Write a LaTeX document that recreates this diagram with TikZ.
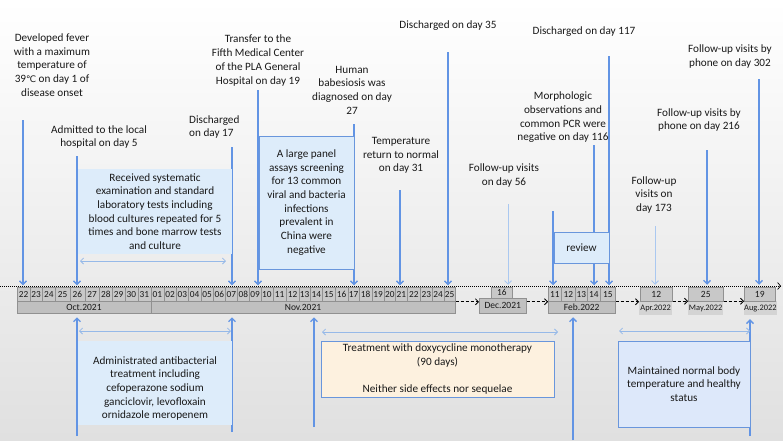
\documentclass[tikz,border=0pt]{standalone}
\usepackage{fontspec}
\setmainfont{Carlito}
\newfontfamily\djv{DejaVu Sans}
\usetikzlibrary{arrows.meta}
\pgfdeclarelayer{bg}
\pgfdeclarelayer{under}
\pgfsetlayers{bg,under,main}
\definecolor{arrblue}{RGB}{98,148,228}
\definecolor{lightarr}{RGB}{170,200,240}
\definecolor{dblarr}{RGB}{150,185,232}
\definecolor{boxblue}{RGB}{221,236,250}
\definecolor{boxblue2}{RGB}{221,232,250}
\definecolor{boxorange}{RGB}{253,241,223}
\definecolor{boxedge}{RGB}{105,150,220}
\definecolor{txt}{RGB}{25,25,25}
\definecolor{cellfill}{RGB}{200,200,200}
\definecolor{cellline}{RGB}{145,145,145}
\definecolor{monthfill}{RGB}{192,192,192}
\definecolor{monthlight}{RGB}{212,212,212}
\definecolor{bggrey}{RGB}{224,224,224}
\begin{document}
\begin{tikzpicture}[x=1pt,y=-1pt,
  lbl/.style={text=txt, align=center, inner sep=0pt, font=\fontsize{11.2}{13.7}\selectfont},
  vline/.style={draw=arrblue, line width=1.3pt, shorten >=2pt, -{Straight Barb[length=3.5pt,width=7pt]}},
  vlight/.style={draw=lightarr, line width=0.9pt, shorten >=2pt, -{Straight Barb[length=3.5pt,width=7pt]}},
  upline/.style={draw=arrblue, line width=1.3pt, shorten >=4pt, -{Straight Barb[length=3.5pt,width=7pt]}},
  dblline/.style={draw=dblarr, line width=0.8pt, {Straight Barb[length=3pt,width=6pt]}-{Straight Barb[length=3pt,width=6pt]}},
  cell/.style={draw=cellline, fill=cellfill, line width=0.5pt, minimum height=14pt, inner sep=0pt, text=txt, font=\fontsize{9.3}{10}\selectfont},
  month/.style={draw=cellline, fill=monthfill, line width=0.5pt, inner sep=0pt, text=txt, font=\fontsize{9.5}{10}\selectfont},
  monthlt/.style={draw=none, fill=monthlight, inner sep=0pt, text=txt, font=\fontsize{8.4}{9}\selectfont},
  panel/.style={fill=boxblue, draw=boxedge, line width=0.8pt, inner sep=0pt},
  plain/.style={fill=boxblue, draw=none, inner sep=0pt},
  tline/.style={draw=black, line width=0.7pt, dash pattern=on 1pt off 1pt, -{Straight Barb[length=3pt,width=7pt]}},
  dasharr/.style={draw=black, line width=0.8pt, dash pattern=on 3pt off 2pt, -{Straight Barb[length=3pt,width=6pt]}}
]
\useasboundingbox (0,0) rectangle (783,440);
\begin{pgfonlayer}{bg}
\shade[top color=white, bottom color=bggrey] (0,0) rectangle (783,440);
\end{pgfonlayer}

% ---- timeline ----
\coordinate (tl0) at (0,286);
\coordinate (tl1) at (781,286);
\draw[tline] (tl0) -- (tl1);

% Oct/Nov and Feb day cells
\foreach \n/\t/\l/\r in {o22/22/17/29.5, o23/23/29.5/42, o24/24/42/55, o25/25/55/69.5, o26/26/69.5/84.5,
  o27/27/84.5/99, o28/28/99/112, o29/29/112/124.5, o30/30/124.5/137.5, o31/31/137.5/150.5,
  n01/01/150.5/163.5, n02/02/163.5/176, n03/03/176/188, n04/04/188/200.5, n05/05/200.5/213,
  n06/06/213/225, n07/07/225/237, n08/08/237/249, n09/09/249/260.5, n10/10/260.5/272.5,
  n11/11/272.5/286, n12/12/286/298.5, n13/13/298.5/310, n14/14/310/322, n15/15/322/335,
  n16/16/335/347.5, n17/17/347.5/359, n18/18/359/371.5, n19/19/371.5/384, n20/20/384/395,
  n21/21/395/407, n22/22/407/420, n23/23/420/432, n24/24/432/443.5, n25/25/443.5/455,
  f11/11/548/561, f12/12/561/575, f13/13/575/587, f14/14/587/600, f15/15/600/615}
  \node[cell, minimum width={\r-\l}, anchor=west] (\n) at (\l,294.5) {\t};

\node[month, minimum width=133.5, minimum height=11.5, anchor=west] (octm) at (17,307.25) {Oct.2021};
\node[month, minimum width=304.5, minimum height=11.5, anchor=west] (novm) at (150.5,307.25) {Nov.2021};
\node[month, minimum width=67, minimum height=11.5, anchor=west] (febm) at (548,307.25) {Feb.2022};

% Dec block
\node[month, minimum width=47, minimum height=15, anchor=west] (decm) at (479,305.5) {Dec.2021};
\node[cell, minimum width=21, minimum height=11, anchor=west] (d16) at (491,292.5) {16};
% Apr, May, Aug blocks
\node[monthlt, minimum width=33, minimum height=14, anchor=west] (aprm) at (639,308) {Apr.2022};
\node[cell, minimum width=32, anchor=west, font=\fontsize{9.5}{10}\selectfont] (a12) at (640,294) {12};
\node[monthlt, minimum width=35, minimum height=14, anchor=west] (maym) at (688,308) {May.2022};
\node[cell, minimum width=35, anchor=west, font=\fontsize{9.5}{10}\selectfont] (m25) at (688,294) {25};
\node[monthlt, minimum width=31, minimum height=14, anchor=west] (augm) at (744,308) {Aug.2022};
\node[cell, minimum width=31, anchor=west, font=\fontsize{9.5}{10}\selectfont] (g19) at (744,294) {19};

% dashed links between blocks
\draw[dasharr] (n25.south east) -- (n25.south east -| decm.west);
\draw[dasharr] (decm.east |- f11.south west) -- (f11.south west);
\draw[dasharr] (f15.south east) -- (f15.south east -| aprm.west);
\draw[dasharr] (a12.south east) -- (m25.south west);
\draw[dasharr] (m25.south east) -- (g19.south west);

% ---- vertical arrows (under boxes) ----
\coordinate (u1) at (23,120);
\coordinate (u2) at (77,156);
\coordinate (u3) at (232,147);
\coordinate (u4) at (258,90);
\coordinate (u5) at (354,124);
\coordinate (u6) at (400,190);
\coordinate (u7) at (448,52);
\coordinate (u8) at (508,204);
\coordinate (u9) at (553,211);
\coordinate (u10) at (594,145);
\coordinate (u11) at (609,56);
\coordinate (u12) at (655,226);
\coordinate (u13) at (707,150);
\coordinate (u14) at (759,79);
\coordinate (b1) at (77,436);
\coordinate (b2) at (232,432);
\coordinate (b3) at (314,427);
\coordinate (b4) at (573,440);
\coordinate (b5) at (750,436);
\begin{pgfonlayer}{under}
\draw[vline] (u1) -- (u1 |- o22.north);
\draw[vline] (u2) -- (u2 |- o26.north);
\draw[vline] (u3) -- (u3 |- n07.north);
\draw[vline] (u4) -- (u4 |- n09.north);
\draw[vline] (u5) -- (u5 |- n17.north);
\draw[vline] (u6) -- (u6 |- n21.north);
\draw[vline] (u7) -- (u7 |- n25.north);
\draw[vlight] (u8) -- (u8 |- d16.north);
\draw[vline] (u9) -- (u9 |- f11.north);
\draw[vline] (u10) -- (u10 |- f14.north);
\draw[vline] (u11) -- (u11 |- f15.north);
\draw[vlight] (u12) -- (u12 |- a12.north);
\draw[vline] (u13) -- (u13 |- m25.north);
\draw[vline] (u14) -- (u14 |- g19.north);
\draw[upline] (b1) -- (b1 |- octm.south);
\draw[upline] (b2) -- (b2 |- novm.south);
\draw[upline] (b3) -- (b3 |- novm.south);
\draw[upline] (b4) -- (b4 |- febm.south);
\draw[upline] (b5) -- (b5 |- augm.south);
\end{pgfonlayer}

% ---- boxes ----
\node[plain, minimum width=153.5, minimum height=85, lbl] (sysbox) at (155,211.5)
  {Received systematic\\examination and standard\\laboratory tests including\\blood cultures repeated for 5\\times and bone marrow tests\\and culture};
\node[panel, minimum width=95, minimum height=133, lbl] (panelbox) at (306.5,202.5)
  {A large panel\\assays screening\\for 13 common\\viral and bacteria\\infections\\prevalent in\\China were\\negative};
\node[panel, minimum width=55, minimum height=31, lbl] (review) at (581.5,247.5) {review};
\node[plain, minimum width=154, minimum height=84] (abbox) at (154.5,383) {};
\node[lbl] (ablbl) at (155,388.5)
  {Administrated antibacterial\\treatment including\\cefoperazone sodium\\ganciclovir, levofloxain\\ornidazole meropenem};
\node[panel, fill=boxorange, minimum width=233, minimum height=56, lbl] (doxbox) at (437.5,369)
  {Treatment with doxycycline monotherapy\\(90 days)\\[13.7pt]Neither side effects nor sequelae};
\node[panel, fill=boxblue2, minimum width=132, minimum height=86, lbl] (normbox) at (684,384)
  {Maintained normal body\\temperature and healthy\\status};

% ---- double arrows ----
\coordinate (da1) at (80,261); \coordinate (da2) at (226,261);
\coordinate (db1) at (79,331); \coordinate (db2) at (231,331);
\coordinate (dc1) at (322,332); \coordinate (dc2) at (558,332);
\coordinate (dd1) at (619,331); \coordinate (dd2) at (750,331);
\draw[dblline] (da1) -- (da2);
\draw[dblline] (db1) -- (db2);
\draw[dblline] (dc1) -- (dc2);
\draw[dblline] (dd1) -- (dd2);

% ---- labels above ----
\node[lbl] (t1) at (52,65) {Developed fever\\with a maximum\\temperature of\\39{\djv\fontsize{9}{10}\selectfont ℃} on day 1 of\\disease onset};
\node[lbl] (t2) at (99,137) {Admitted to the local\\hospital on day 5};
\node[lbl, align=left, anchor=west] (t4) at (189,127) {Discharged\\on day 17};
\node[lbl] (t5) at (258,60.5) {Transfer to the\\Fifth Medical Center\\of the PLA General\\Hospital on day 19};
\node[lbl] (t7) at (352,90) {Human\\babesiosis was\\diagnosed on day\\27};
\node[lbl] (t8) at (401,155.5) {Temperature\\return to normal\\on day 31};
\node[lbl] (t9) at (448,26) {Discharged on day 35};
\node[lbl] (t10) at (504,175.5) {Follow-up visits\\on day 56};
\node[lbl] (t12) at (563,117.5) {Morphologic\\observations and\\common PCR were\\negative on day 116};
\node[lbl] (t13) at (584,32) {Discharged on day 117};
\node[lbl] (t14) at (654,195) {Follow-up\\visits on\\day 173};
\node[lbl] (t15) at (699,120) {Follow-up visits by\\phone on day 216};
\node[lbl] (t16) at (730,56.5) {Follow-up visits by\\phone on day 302};
\end{tikzpicture}
\end{document}
